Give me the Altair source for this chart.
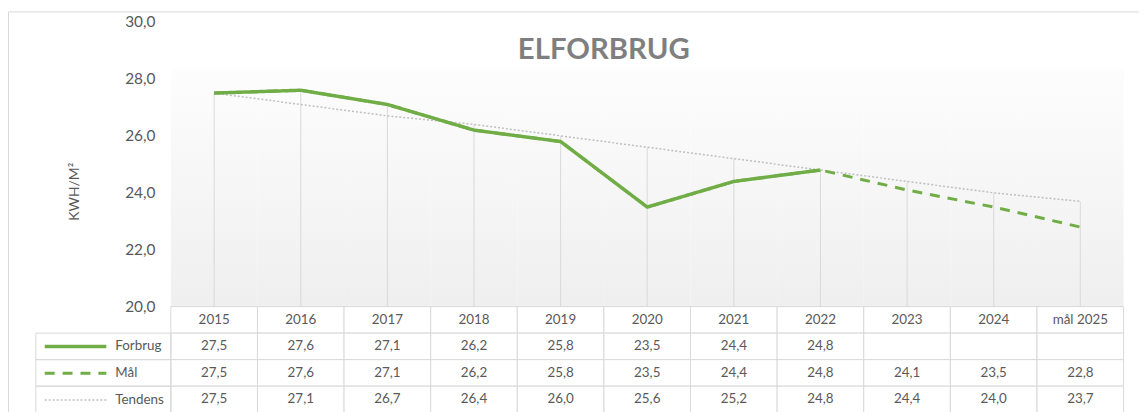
import altair as alt
import pandas as pd

categories = ["2015", "2016", "2017", "2018", "2019", "2020", "2021", "2022", "2023", "2024", "mål 2025"]
forbrug = [27.5, 27.6, 27.1, 26.2, 25.8, 23.5, 24.4, 24.8, None, None, None]
maal = [27.5, 27.6, 27.1, 26.2, 25.8, 23.5, 24.4, 24.8, 24.1, 23.5, 22.8]
tendens = [27.5, 27.1, 26.7, 26.4, 26.0, 25.6, 25.2, 24.8, 24.4, 24.0, 23.7]
series_names = ["Forbrug", "Mål", "Tendens"]
y_ticks = [20, 22, 24, 26, 28, 30]
title_text = "ELFORBRUG"
y_title = "KWH/M²"

GREEN = "#70ad47"
GRID = "#d9d9d9"
TEXT = "#595959"
FONT = "Lato"

series_values = {"Forbrug": forbrug, "Mål": maal, "Tendens": tendens}

long_rows = []
for s in ["Tendens", "Mål", "Forbrug"]:
    for c, v in zip(categories, series_values[s]):
        if v is not None:
            long_rows.append({"cat": c, "series": s, "value": v})
lines_df = pd.DataFrame(long_rows)
drop_df = lines_df.groupby("cat", as_index=False)["value"].max()
bg_df = pd.DataFrame({"cat": categories})


def fmt(v):
    return "" if v is None else f"{v:.1f}".replace(".", ",")


table_rows = [{"cat": c, "row": "hdr", "text": c} for c in categories]
for s in series_names:
    for c, v in zip(categories, series_values[s]):
        table_rows.append({"cat": c, "row": s, "text": fmt(v)})
table_df = pd.DataFrame(table_rows)
label_df = pd.DataFrame({"row": series_names})

x_scale = alt.Scale(type="band", domain=categories, range=[164, 1123.5], paddingInner=0, paddingOuter=0)


def yv():
    return alt.Scale(domain=[20, 30], range=[297.5, 10.5], nice=False, zero=False)


row_order = ["hdr"] + series_names


def yr():
    return alt.Scale(type="band", domain=row_order, range=[297.3, 404.1], paddingInner=0, paddingOuter=0)


X = alt.X("cat:N", scale=x_scale, axis=None, sort=categories)
Xc = alt.X("cat:N", scale=x_scale, axis=None, sort=categories, bandPosition=0.5)

grad = alt.Gradient(
    gradient="linear",
    stops=[alt.GradientStop(color="#fdfdfd", offset=0), alt.GradientStop(color="#efefef", offset=1)],
    x1=0, x2=0, y1=0, y2=1,
)

bg = alt.Chart(bg_df).mark_rect(fill=grad).encode(
    x=X,
    y=alt.YDatum(28.35, type="quantitative", scale=yv(), axis=None),
    y2=alt.datum(20),
)

drops = alt.Chart(drop_df).mark_rule(color=GRID, strokeWidth=1).encode(
    x=Xc,
    y=alt.Y("value:Q", scale=yv(), axis=None),
    y2=alt.datum(20),
)

leg = alt.Legend(
    title=None, orient="none", legendX=35, legendY=324, direction="vertical",
    symbolType="stroke", symbolSize=3844, clipHeight=26.7, rowPadding=0,
    labelOffset=7, labelFontSize=13.5, labelColor=TEXT, labelFont=FONT, padding=0,
)

lines = alt.Chart(lines_df).mark_line(strokeCap="butt", strokeJoin="round").encode(
    x=Xc,
    y=alt.Y(
        "value:Q", scale=yv(),
        axis=alt.Axis(
            orient="left", values=y_ticks, offset=-164, domain=False, ticks=False, grid=False,
            labelPadding=16, labelFontSize=15.5, labelColor=TEXT, labelFont=FONT,
            labelExpr="replace(format(datum.value, '.1f'), '.', ',')",
            title=y_title, titleFontSize=14, titleFontWeight="normal", titleColor=TEXT,
            titleFont=FONT, titleAngle=270, titleX=-97, titleY=181,
            titleAlign="center", titleBaseline="middle",
        ),
    ),
    color=alt.Color("series:N", scale=alt.Scale(domain=series_names, range=[GREEN, GREEN, "#bfbfbf"]), legend=leg),
    strokeDash=alt.StrokeDash("series:N", scale=alt.Scale(domain=series_names, range=[[1, 0], [10, 8], [2, 2]]), legend=leg),
    strokeWidth=alt.StrokeWidth("series:N", scale=alt.Scale(type="ordinal", domain=series_names, range=[3.5, 3, 1.5]), legend=leg),
)

Yr = alt.Y("row:N", scale=yr(), axis=None, sort=row_order)
Yrc = alt.Y("row:N", scale=yr(), axis=None, sort=row_order, bandPosition=0.5)

cells = alt.Chart(table_df).mark_rect(fill="white", stroke=GRID, strokeWidth=1).encode(x=X, y=Yr)
cell_text = alt.Chart(table_df).mark_text(fontSize=13.5, color=TEXT, font=FONT, align="center", baseline="middle").encode(
    x=Xc, y=Yrc, text="text:N"
)
label_cells = alt.Chart(label_df).mark_rect(fillOpacity=0, stroke=GRID, strokeWidth=1).encode(
    x=alt.value(28), x2=alt.value(164), y=Yr
)

chart = (
    alt.layer(bg, drops, cells, label_cells, cell_text, lines)
    .resolve_scale(y="independent")
    .properties(
        width=1139, height=404,
        autosize=alt.AutoSizeParams(type="none"),
        padding={"left": 0, "top": 2, "right": 0, "bottom": 0},
        title=alt.TitleParams(title_text, fontSize=29.5, fontWeight="bold", color="#7f7f7f", font=FONT,
                              anchor="middle", dx=30.5, dy=58),
    )
    .configure(font=FONT)
    .configure_view(stroke=GRID, strokeWidth=1)
)

chart.save("out.html", embed_options={"renderer": "svg", "actions": False})
